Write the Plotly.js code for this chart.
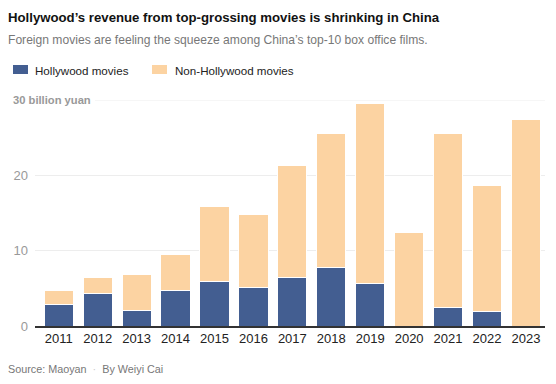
<!DOCTYPE html>
<html>
<head>
<meta charset="utf-8">
<script src="https://cdn.plot.ly/plotly-3.0.1.min.js"></script>
<style>
html,body{margin:0;padding:0;background:#fff;}
#chart{width:556px;height:384px;}
</style>
</head>
<body>
<div id="chart"></div>
<script>
var years = ["2011","2012","2013","2014","2015","2016","2017","2018","2019","2020","2021","2022","2023"];
var hollywood = [2.9, 4.25, 2.1, 4.75, 5.95, 5.1, 6.4, 7.7, 5.6, 0, 2.5, 1.9, 0];
var totals = [4.65, 6.45, 6.8, 9.45, 15.8, 14.75, 21.25, 25.55, 29.6, 12.4, 25.55, 18.6, 27.45];
var nonHollywood = totals.map(function(t, i){ return +(t - hollywood[i]).toFixed(2); });
var yTicks = [0, 10, 20, 30];
var yTickText = ["0", "10", "20", ""];

var FONT = "Liberation Sans, Arial, sans-serif";
var BLUE = "#435e91";
var PEACH = "#fcd3a2";
var PW = 510, PH = 226, PB = 326, PL = 35;
function px(x){ return (x - PL) / PW; }
function py(y){ return (PB - y) / PH; }

var traces = [
  {type:"bar", x: years, y: hollywood, name:"Hollywood movies",
   marker:{color:BLUE, line:{color:"#ffffff", width:1}}, hoverinfo:"y"},
  {type:"bar", x: years, y: nonHollywood, name:"Non-Hollywood movies",
   marker:{color:PEACH, line:{color:"#ffffff", width:1}}, hoverinfo:"y"}
];

var layout = {
  width:556, height:384,
  margin:{l:35, r:11, t:100, b:58},
  paper_bgcolor:"#fff", plot_bgcolor:"#fff",
  barmode:"stack", bargap:0.25,
  showlegend:false,
  font:{family:FONT, size:13, color:"#333"},
  xaxis:{type:"category", range:[-0.61, 12.49], showgrid:false, zeroline:false,
         showline:true, linecolor:"#333", linewidth:1.5, ticks:"",
         tickfont:{family:FONT, size:13, color:"#222"}, fixedrange:true},
  yaxis:{range:[0,30], tickvals:yTicks, ticktext:yTickText, showgrid:true,
         gridcolor:"#ededed", gridwidth:1, zeroline:false, ticks:"",
         ticklabelstandoff:6,
         tickfont:{family:FONT, size:13, color:"#999"}, fixedrange:true},
  annotations:[
    {text:"<b>Hollywood’s revenue from top-grossing movies is shrinking in China</b>",
     xref:"paper", yref:"paper", x:px(6), y:py(17), xanchor:"left", yanchor:"middle",
     showarrow:false, font:{family:FONT, size:13.2, color:"#121212"}},
    {text:"Foreign movies are feeling the squeeze among China’s top-10 box office films.",
     xref:"paper", yref:"paper", x:px(6), y:py(40), xanchor:"left", yanchor:"middle",
     showarrow:false, font:{family:FONT, size:12.1, color:"#777"}},
    {text:"Hollywood movies", xref:"paper", yref:"paper", x:px(33), y:py(70),
     xanchor:"left", yanchor:"middle", showarrow:false, font:{family:FONT, size:11.6, color:"#222"}},
    {text:"Non-Hollywood movies", xref:"paper", yref:"paper", x:px(173), y:py(70),
     xanchor:"left", yanchor:"middle", showarrow:false, font:{family:FONT, size:11.6, color:"#222"}},
    {text:"<b>30 billion yuan</b>", xref:"paper", yref:"y", x:px(10), y:30,
     xanchor:"left", yanchor:"middle", showarrow:false, bgcolor:"#fff", borderpad:2,
     font:{family:FONT, size:11.2, color:"#999"}},
    {text:"Source: Maoyan <span style='color:#ccc'> · </span> By Weiyi Cai", xref:"paper", yref:"paper",
     x:px(6), y:py(369), xanchor:"left", yanchor:"middle", showarrow:false,
     font:{family:FONT, size:10.8, color:"#777"}}
  ],
  shapes:[
    {type:"line", xref:"paper", yref:"y", x0:px(95), x1:1, y0:30, y1:30,
     line:{color:"#ededed", width:1}, layer:"below"},
    {type:"rect", xref:"paper", yref:"paper", x0:px(13), x1:px(28),
     y0:py(74), y1:py(65), fillcolor:BLUE, line:{width:0}},
    {type:"rect", xref:"paper", yref:"paper", x0:px(152), x1:px(167),
     y0:py(74), y1:py(65), fillcolor:PEACH, line:{width:0}}
  ]
};

Plotly.newPlot("chart", traces, layout, {displayModeBar:false, staticPlot:true});
</script>
</body>
</html>
